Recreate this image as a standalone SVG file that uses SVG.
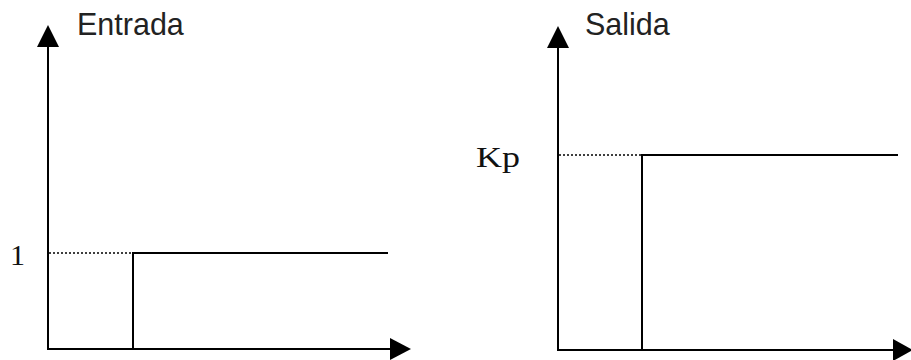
<svg xmlns="http://www.w3.org/2000/svg" width="911" height="360" viewBox="0 0 911 360">
<style>
.ax{stroke:#000;stroke-width:2;fill:none}
.ln{stroke:#000;stroke-width:2;fill:none}
.dot{stroke:#000;stroke-width:1.6;stroke-dasharray:2 2;fill:none}
.hd{fill:#000}
.lab{font-family:"Liberation Sans",Arial,sans-serif;font-size:30.5px;fill:#222}
.num{font-family:"Liberation Serif","Times New Roman",serif;font-size:30px;fill:#111}
</style>
<rect width="911" height="360" fill="#fff"/>
<g id="entrada">
<line class="ax" x1="48" y1="350" x2="48" y2="45"/>
<polygon class="hd" points="48,25 37,47 59,47"/>
<line class="ax" x1="47" y1="349" x2="392" y2="349"/>
<polygon class="hd" points="411,349 390,338 390,360"/>
<line class="dot" x1="49" y1="253" x2="150" y2="253"/>
<polyline class="ln" points="133,349 133,253 388,253"/>
<text class="lab" x="77" y="35">Entrada</text>
<text class="num" x="10" y="265">1</text>
</g>
<g id="salida">
<line class="ax" x1="558" y1="351" x2="558" y2="46"/>
<polygon class="hd" points="558,26 547,48 569,48"/>
<line class="ax" x1="557" y1="350" x2="895" y2="350"/>
<polygon class="hd" points="913,350 893,339 893,361"/>
<line class="dot" x1="559" y1="155" x2="662" y2="155"/>
<polyline class="ln" points="642,350 642,155 898,155"/>
<text class="lab" x="585" y="35">Salida</text>
<text class="num" x="476" y="167" textLength="44" lengthAdjust="spacingAndGlyphs">Kp</text>
</g>
</svg>
